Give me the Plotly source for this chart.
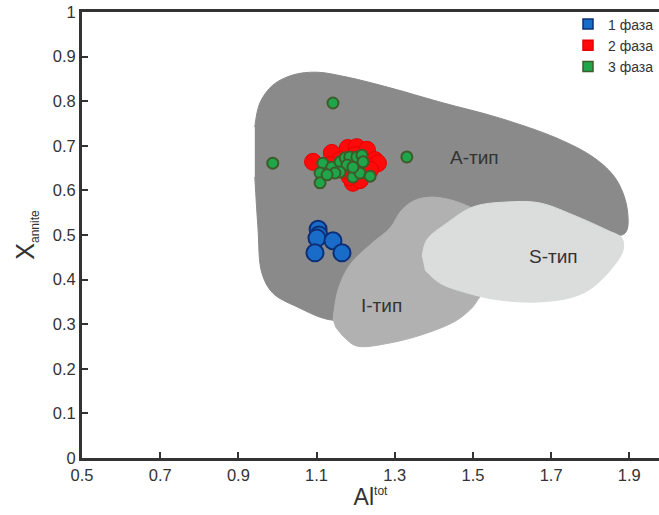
import plotly.graph_objects as go

# Discrimination fields (Al_tot vs X_annite), boundary vertices in data units
a_type_x = [0.942, 0.955, 0.988, 1.040, 1.101, 1.178, 1.288, 1.416, 1.569, 1.715, 1.807,
            1.858, 1.884, 1.896, 1.894, 1.881, 1.756, 1.671, 1.416, 1.244, 1.142, 1.050,
            0.988, 0.960, 0.950, 0.942]
a_type_y = [0.742, 0.796, 0.836, 0.859, 0.865, 0.854, 0.830, 0.798, 0.762, 0.717, 0.675,
            0.635, 0.594, 0.549, 0.511, 0.500, 0.522, 0.444, 0.370, 0.325, 0.309, 0.339,
            0.370, 0.415, 0.518, 0.630]

i_type_x = [1.142, 1.155, 1.185, 1.237, 1.288, 1.318, 1.352, 1.395, 1.446, 1.492, 1.543,
            1.620, 1.518, 1.500, 1.459, 1.382, 1.288, 1.203, 1.173, 1.147]
i_type_y = [0.309, 0.377, 0.433, 0.478, 0.516, 0.556, 0.578, 0.585, 0.578, 0.563, 0.538,
            0.444, 0.361, 0.339, 0.309, 0.280, 0.258, 0.251, 0.269, 0.296]

s_type_x = [1.370, 1.382, 1.434, 1.500, 1.587, 1.671, 1.756, 1.843, 1.881, 1.884, 1.858,
            1.807, 1.756, 1.671, 1.569, 1.485, 1.416, 1.377]
s_type_y = [0.451, 0.489, 0.527, 0.563, 0.574, 0.572, 0.545, 0.511, 0.493, 0.466, 0.428,
            0.383, 0.361, 0.350, 0.354, 0.370, 0.392, 0.422]

field_names = ["A-тип", "I-тип", "S-тип"]
field_label_x = [1.505, 1.267, 1.705]
field_label_y = [0.673, 0.343, 0.451]

# Biotite analyses by intrusive phase
phase1_al = [1.104, 1.106, 1.101, 1.142, 1.096, 1.165]
phase1_xann = [0.513, 0.500, 0.493, 0.487, 0.460, 0.460]

phase2_al = [1.091, 1.139, 1.180, 1.203, 1.229, 1.249, 1.257, 1.193, 1.211, 1.185,
             1.160, 1.173, 1.224, 1.134, 1.198, 1.237]
phase2_xann = [0.664, 0.684, 0.695, 0.697, 0.691, 0.668, 0.661, 0.617, 0.623, 0.630,
               0.668, 0.646, 0.657, 0.657, 0.679, 0.646]

phase3_al = [0.988, 1.142, 1.331, 1.116, 1.109, 1.109, 1.139, 1.160, 1.173, 1.185, 1.203,
             1.216, 1.219, 1.178, 1.160, 1.193, 1.211, 1.237, 1.147, 1.127, 1.193]
phase3_xann = [0.661, 0.796, 0.675, 0.661, 0.639, 0.617, 0.652, 0.664, 0.673, 0.675, 0.675,
               0.679, 0.664, 0.657, 0.641, 0.630, 0.639, 0.632, 0.639, 0.635, 0.652]

phase_names = ["1 фаза", "2 фаза", "3 фаза"]

x_ticks = [0.5, 0.7, 0.9, 1.1, 1.3, 1.5, 1.7, 1.9]
y_ticks = [0, 0.1, 0.2, 0.3, 0.4, 0.5, 0.6, 0.7, 0.8, 0.9, 1]

FONT = "Liberation Sans, Arial, sans-serif"
INK = "#333333"

fig = go.Figure()

field_fills = ["#8a8a8a", "#b1b1b1", "#dbdcdc"]
for fx, fy, col in zip([a_type_x, i_type_x, s_type_x], [a_type_y, i_type_y, s_type_y], field_fills):
    fig.add_trace(go.Scatter(
        x=fx, y=fy, mode="lines", fill="toself", fillcolor=col,
        line=dict(color=col, width=1, shape="spline", smoothing=1.0),
        hoverinfo="skip", showlegend=False))

fills = ["#1a6cc9", "#ff0a0a", "#1fa64a"]
edges = ["#0d2f78", "#e80000", "#3d5c2a"]
sizes = [17, 17, 11]
widths = [2, 1, 2]
for xs, ys, fc, ec, sz, lw in zip([phase1_al, phase2_al, phase3_al],
                                  [phase1_xann, phase2_xann, phase3_xann],
                                  fills, edges, sizes, widths):
    fig.add_trace(go.Scatter(
        x=xs, y=ys, mode="markers",
        marker=dict(size=sz, color=fc, line=dict(color=ec, width=lw)),
        showlegend=False))

# legend entries with square swatches
for name, fc, ec in zip(phase_names, fills, edges):
    fig.add_trace(go.Scatter(
        x=[None], y=[None], mode="markers", name=name,
        marker=dict(symbol="square", size=10, color=fc, line=dict(color=ec, width=1.5))))

for name, lx, ly in zip(field_names, field_label_x, field_label_y):
    fig.add_annotation(x=lx, y=ly, text=name, showarrow=False,
                       font=dict(family=FONT, size=19, color=INK))

axis_common = dict(
    showgrid=False, zeroline=False, showline=True, linecolor=INK, linewidth=3,
    ticks="inside", ticklen=6, tickwidth=1.5, tickcolor=INK,
    tickfont=dict(family=FONT, size=16.5, color=INK),
)

fig.update_layout(
    width=659, height=515,
    margin=dict(l=82, r=0, t=12, b=57),
    paper_bgcolor="white", plot_bgcolor="white",
    font=dict(family=FONT, color=INK),
    xaxis=dict(range=[0.5, 1.976], tickvals=x_ticks, mirror=True,
               title=dict(text="Al<sup><span style='font-size:12px'>tot</span></sup>",
                          font=dict(family=FONT, size=23, color=INK), standoff=4),
               **axis_common),
    yaxis=dict(range=[0, 1], tickvals=y_ticks, mirror=False,
               title=dict(text="X<sub><span style='font-size:12px'>annite</span></sub>",
                          font=dict(family=FONT, size=25, color=INK), standoff=12),
               **axis_common),
    legend=dict(x=1.0, y=1.008, xanchor="right", yanchor="top",
                bgcolor="rgba(255,255,255,0)", itemwidth=30, tracegroupgap=0,
                font=dict(family=FONT, size=14, color=INK)),
    showlegend=True,
)

fig.write_html("out.html")
